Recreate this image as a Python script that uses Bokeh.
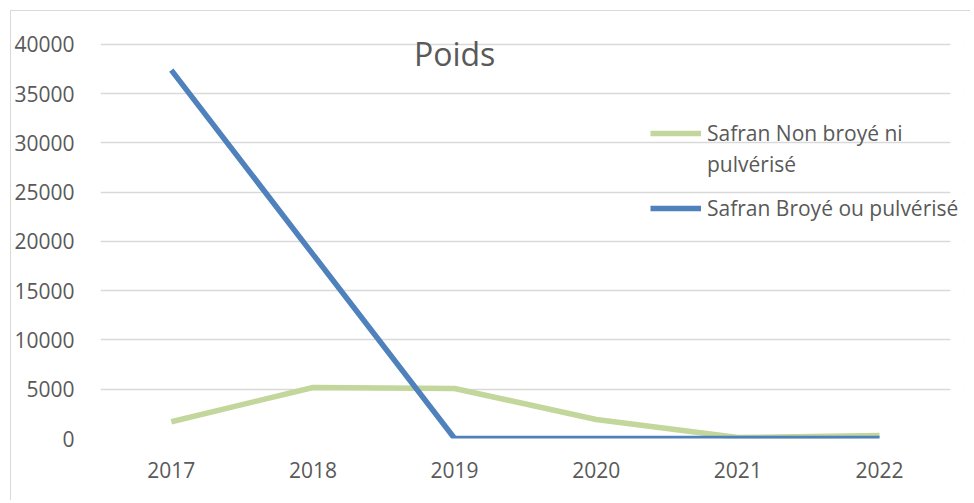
from bokeh.plotting import figure
from bokeh.models import (Range1d, Legend, LegendItem, Label, FixedTicker,
                          SingleIntervalTicker, BoxAnnotation)
from bokeh.embed import file_html
from bokeh.resources import INLINE

years = ["2017", "2018", "2019", "2020", "2021", "2022"]
non_broye = [1700, 5180, 5080, 1930, 100, 300]
broye = [37400, 18700, 0, 0, 0, 0]
label_non_broye_1 = "Safran Non broyé ni"
label_non_broye_2 = "pulvérisé"
label_broye = "Safran Broyé ou pulvérisé"
title_text = "Poids"

FONT = "Open Sans"
TXT = "#595959"
GRID = "#d9d9d9"
GREEN = "#c3d69b"
BLUE = "#4f81bd"

xpos = list(range(len(years)))
n = len(years)

# category bands span [-0.5, n-0.5]; a little extra room on the right for the legend text
p = figure(width=960, height=490, x_range=Range1d(-0.5, n - 0.5 + 0.1),
           y_range=Range1d(0, 42944), output_backend="svg", toolbar_location=None,
           min_border_left=87, min_border_right=7, min_border_top=4,
           min_border_bottom=63)
p.margin = (10, 0, 0, 10)
p.styles = {"border-left": "1px solid #d9d9d9", "border-top": "1px solid #d9d9d9"}
p.outline_line_color = None
p.background_fill_color = "white"
p.border_fill_color = "white"

p.yaxis.ticker = SingleIntervalTicker(interval=5000)
p.xaxis.ticker = FixedTicker(ticks=xpos)
p.xaxis.major_label_overrides = {i: y for i, y in zip(xpos, years)}
for ax in (p.xaxis, p.yaxis):
    ax.axis_line_color = None
    ax.major_tick_line_color = None
    ax.minor_tick_line_color = None
    ax.major_label_text_font = FONT
    ax.major_label_text_font_size = "21px"
    ax.major_label_text_color = TXT
p.yaxis.major_label_standoff = 20
p.xaxis.major_label_standoff = 17
p.xgrid.grid_line_color = None
p.ygrid.grid_line_color = GRID
p.ygrid.grid_line_width = 1.5

# hide the grid in the extra room right of the last category band
p.add_layout(BoxAnnotation(left=n - 0.5, fill_color="white", fill_alpha=1,
                           line_alpha=0, level="underlay"))

r1 = p.line(xpos, non_broye, line_color=GREEN, line_width=5.5, line_join="round")
r2 = p.line(xpos, broye, line_color=BLUE, line_width=5.5, line_join="round")
r_dummy = p.line([], [], line_alpha=0)

common = dict(background_fill_alpha=0, border_line_color=None,
              label_text_font=FONT, label_text_font_size="21px", label_text_color=TXT,
              glyph_width=51, label_standoff=6, padding=0, margin=0)
legend_a = Legend(items=[LegendItem(label=label_non_broye_1, renderers=[r1]),
                         LegendItem(label=label_non_broye_2, renderers=[r_dummy])],
                  location=(550, 260), spacing=3, **common)
legend_b = Legend(items=[LegendItem(label=label_broye, renderers=[r2])],
                  location=(550, 216), **common)
p.add_layout(legend_a)
p.add_layout(legend_b)

p.add_layout(Label(x=2.0, y=39100, text=title_text, text_align="center",
                   text_baseline="alphabetic", text_font=FONT, text_font_size="32px",
                   text_color=TXT))

open("out.html", "w").write(file_html(p, INLINE))
